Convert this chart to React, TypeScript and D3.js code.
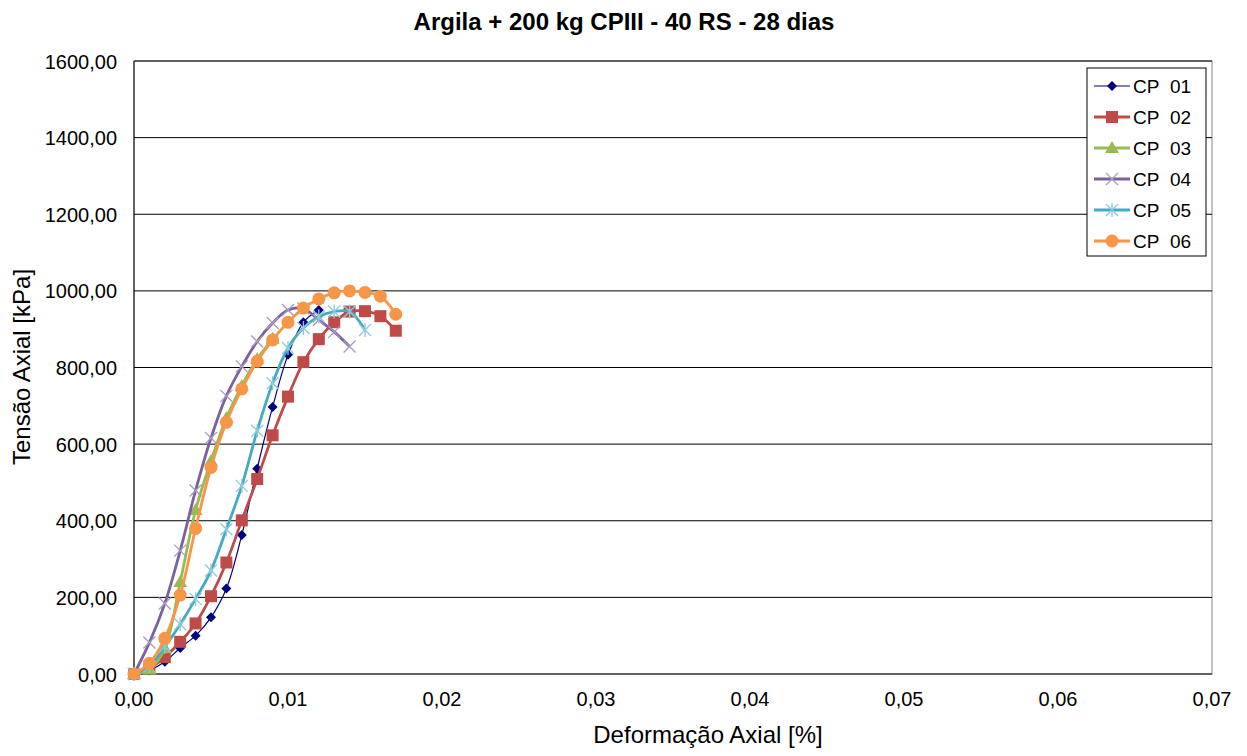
import React from "react";
import * as d3 from "d3";

const title = "Argila + 200 kg CPIII - 40 RS - 28 dias";
const xLabel = "Deformação Axial [%]";
const yLabel = "Tensão Axial [kPa]";
const xTicks = [0, 0.01, 0.02, 0.03, 0.04, 0.05, 0.06, 0.07];
const yTicks = [0, 200, 400, 600, 800, 1000, 1200, 1400, 1600];

const cp01x = [0, 0.001, 0.002, 0.003, 0.004, 0.005, 0.006, 0.007, 0.008, 0.009, 0.010, 0.011, 0.012];
const cp01y = [0, 10, 32, 68, 100, 148, 223, 363, 536, 697, 833, 918, 950];
const cp02x = [0, 0.001, 0.002, 0.003, 0.004, 0.005, 0.006, 0.007, 0.008, 0.009, 0.010, 0.011, 0.012, 0.013, 0.014, 0.015, 0.016, 0.017];
const cp02y = [0, 15, 44, 84, 132, 203, 291, 401, 509, 623, 724, 814, 874, 918, 946, 947, 934, 896];
const cp03x = [0, 0.001, 0.002, 0.003, 0.004, 0.005, 0.006, 0.007, 0.008, 0.009];
const cp03y = [0, 12, 67, 240, 428, 556, 668, 752, 822, 875];
const cp04x = [0, 0.001, 0.002, 0.003, 0.004, 0.005, 0.006, 0.007, 0.008, 0.009, 0.010, 0.011, 0.012, 0.013, 0.014];
const cp04y = [0, 82, 184, 322, 479, 616, 726, 803, 868, 916, 950, 954, 924, 893, 855];
const cp05x = [0, 0.001, 0.002, 0.003, 0.004, 0.005, 0.006, 0.007, 0.008, 0.009, 0.010, 0.011, 0.012, 0.013, 0.014, 0.015];
const cp05y = [0, 20, 71, 130, 196, 270, 378, 491, 635, 759, 851, 903, 933, 946, 946, 898];
const cp06x = [0, 0.001, 0.002, 0.003, 0.004, 0.005, 0.006, 0.007, 0.008, 0.009, 0.010, 0.011, 0.012, 0.013, 0.014, 0.015, 0.016, 0.017];
const cp06y = [0, 28, 93, 206, 380, 539, 657, 744, 816, 872, 918, 955, 979, 995, 1000, 996, 986, 939];

const seriesNames = ["CP  01", "CP  02", "CP  03", "CP  04", "CP  05", "CP  06"];
const seriesX = [cp01x, cp02x, cp03x, cp04x, cp05x, cp06x];
const seriesY = [cp01y, cp02y, cp03y, cp04y, cp05y, cp06y];
const colors = ["#000080", "#BE4B48", "#98B954", "#7D60A0", "#46AAC5", "#F79646"];
const markers = ["diamond", "square", "triangle", "x", "star", "circle"];
const lineWidths = [1.2, 2.8, 2.8, 2.8, 2.8, 2.8];

const W = 1247, H = 756;
const left = 134, right = 1212, top = 61, bottom = 674;
const font = "'Liberation Sans', Arial, sans-serif";

function Marker({ type, x, y, color }: { type: string; x: number; y: number; color: string }) {
  switch (type) {
    case "diamond":
      return <path d={`M${x},${y - 5}L${x + 5},${y}L${x},${y + 5}L${x - 5},${y}Z`} fill={color} />;
    case "square":
      return <rect x={x - 6} y={y - 6} width={12} height={12} fill={color} />;
    case "triangle":
      return <path d={`M${x},${y - 7}L${x + 7},${y + 5}L${x - 7},${y + 5}Z`} fill={color} />;
    case "x":
      return <path d={`M${x - 6},${y - 6}L${x + 6},${y + 6}M${x - 6},${y + 6}L${x + 6},${y - 6}`} stroke="#A99BC0" strokeWidth={1.3} fill="none" />;
    case "star":
      return <path d={`M${x - 6},${y - 6}L${x + 6},${y + 6}M${x - 6},${y + 6}L${x + 6},${y - 6}M${x},${y - 7}L${x},${y + 7}`} stroke="#8CCBDC" strokeWidth={1.3} fill="none" />;
    default:
      return <circle cx={x} cy={y} r={6.5} fill={color} />;
  }
}

export default function App() {
  const x = d3.scaleLinear().domain([0, 0.07]).range([left, right]);
  const y = d3.scaleLinear().domain([0, 1600]).range([bottom, top]);
  const fmt = (v: number) => v.toFixed(2).replace(".", ",");

  return (
    <svg width={W} height={H} style={{ display: "block", position: "absolute", left: 0, top: 0, background: "#fff" }}>
      <rect width={W} height={H} fill="#fff" />
      <text x={624} y={30} textAnchor="middle" fontFamily={font} fontWeight="bold" fontSize={24} fill="#000">{title}</text>
      <rect x={left} y={top} width={right - left} height={bottom - top} fill="none" stroke="#888" strokeWidth={1} />
      {yTicks.map((t) => (
        <g key={t}>
          <line x1={left} x2={right} y1={y(t)} y2={y(t)} stroke="#000" strokeWidth={1} />
          <text x={117} y={y(t) + 7.5} textAnchor="end" fontFamily={font} fontSize={20} fill="#000">{fmt(t)}</text>
        </g>
      ))}
      <line x1={left} x2={left} y1={top} y2={bottom} stroke="#000" />
      {xTicks.map((t) => (
        <text key={t} x={x(t)} y={706} textAnchor="middle" fontFamily={font} fontSize={20} fill="#000">{fmt(t)}</text>
      ))}
      <text x={708} y={743} textAnchor="middle" fontFamily={font} fontSize={24} fill="#000">{xLabel}</text>
      <text transform={`translate(30,367) rotate(-90)`} textAnchor="middle" fontFamily={font} fontSize={24} fill="#000">{yLabel}</text>

      {seriesX.map((xs, i) => {
        const pts: [number, number][] = xs.map((v, j) => [x(v), y(seriesY[i][j])]);
        const line = d3.line().curve(d3.curveCatmullRom.alpha(0.5))(pts) || "";
        return (
          <g key={i}>
            <path d={line} fill="none" stroke={colors[i]} strokeWidth={lineWidths[i]} />
            {pts.map((p, j) => (
              <Marker key={j} type={markers[i]} x={p[0]} y={p[1]} color={colors[i]} />
            ))}
          </g>
        );
      })}

      <rect x={1087} y={68} width={119} height={188} fill="#fff" stroke="#000" strokeWidth={1} />
      {seriesNames.map((n, i) => {
        const ly = 86 + i * 31;
        return (
          <g key={n}>
            <line x1={1094} x2={1130} y1={ly} y2={ly} stroke={colors[i]} strokeWidth={lineWidths[i]} />
            <Marker type={markers[i]} x={1112} y={ly} color={colors[i]} />
            <text x={1133} y={ly + 7} fontFamily={font} fontSize={19} fill="#000">{n.replace("  ", "\u00a0\u00a0")}</text>
          </g>
        );
      })}
    </svg>
  );
}
